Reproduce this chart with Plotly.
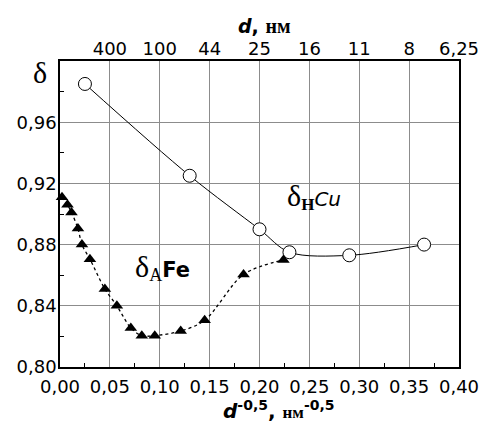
import plotly.graph_objects as go

# ---- data ----
cu_x = [0.025, 0.130, 0.200, 0.230, 0.290, 0.365]
cu_y = [0.985, 0.925, 0.890, 0.875, 0.873, 0.880]

fe_x = [0.002, 0.0075, 0.0115, 0.018, 0.022, 0.030, 0.045, 0.057, 0.071, 0.082, 0.095, 0.121, 0.145, 0.184, 0.224]
fe_y = [0.911, 0.906, 0.901, 0.8905, 0.880, 0.8705, 0.851, 0.840, 0.8255, 0.8205, 0.8205, 0.8235, 0.8305, 0.8605, 0.870]

x_tickvals = [0.00, 0.05, 0.10, 0.15, 0.20, 0.25, 0.30, 0.35, 0.40]
x_ticktext = ["0,00", "0,05", "0,10", "0,15", "0,20", "0,25", "0,30", "0,35", "0,40"]
x_minor = [0.025, 0.075, 0.125, 0.175, 0.225, 0.275, 0.325, 0.375]

y_tickvals = [0.80, 0.84, 0.88, 0.92, 0.96]
y_ticktext = ["0,80", "0,84", "0,88", "0,92", "0,96"]
y_minor = [0.82, 0.86, 0.90, 0.94, 0.98]

top_tickvals = [0.05, 0.10, 0.15, 0.20, 0.25, 0.30, 0.35, 0.40]
top_ticktext = ["400", "100", "44", "25", "16", "11", "8", "6,25"]

SANS = "DejaVu Sans"
SERIF = "Liberation Serif"

fig = go.Figure()

fig.add_trace(go.Scatter(
    x=cu_x, y=cu_y, mode="lines+markers",
    line=dict(color="black", width=1, shape="spline", smoothing=0.9),
    marker=dict(symbol="circle", size=13, color="white", line=dict(color="black", width=1)),
    cliponaxis=False, showlegend=False, hoverinfo="skip"))

fig.add_trace(go.Scatter(
    x=fe_x, y=fe_y, mode="lines+markers",
    line=dict(color="black", width=1.3, dash="dot", shape="spline", smoothing=0.9),
    marker=dict(symbol="triangle-up", size=11, color="black"),
    cliponaxis=False, showlegend=False, hoverinfo="skip"))

# invisible trace to carry the top axis
fig.add_trace(go.Scatter(x=[0, 0.4], y=[0.8, 0.8], xaxis="x2", mode="markers",
                         marker=dict(opacity=0), showlegend=False, hoverinfo="skip"))

axis_common = dict(showline=True, linecolor="black", linewidth=1.5, mirror=True,
                   showgrid=True, gridcolor="#8c8c8c", gridwidth=1, zeroline=False,
                   tickfont=dict(family=SANS, size=18, color="black"))

fig.update_layout(
    width=491, height=427,
    margin=dict(l=60, r=23, t=61, b=60),
    paper_bgcolor="white", plot_bgcolor="white",
    xaxis=dict(range=[0, 0.40], tickmode="array", tickvals=x_tickvals, ticktext=x_ticktext,
               ticks="inside", ticklen=0, ticklabelstandoff=3,
               minor=dict(tickvals=x_minor, ticks="inside", ticklen=4, tickcolor="black", showgrid=False),
               **axis_common),
    yaxis=dict(range=[0.80, 1.00], tickmode="array", tickvals=y_tickvals, ticktext=y_ticktext,
               ticks="inside", ticklen=0, ticklabelstandoff=-2,
               minor=dict(tickvals=y_minor, ticks="inside", ticklen=4, tickcolor="black", showgrid=False),
               **axis_common),
    xaxis2=dict(overlaying="x", side="top", anchor="y", range=[0, 0.40],
                tickmode="array", tickvals=top_tickvals, ticktext=top_ticktext,
                showgrid=False, showline=False, zeroline=False, ticks="", ticklabelstandoff=1,
                tickfont=dict(family=SANS, size=18, color="black")),
)

ann = []
# delta on y axis
ann.append(dict(xref="paper", yref="paper", x=-0.049, y=0.964, xanchor="center", yanchor="middle",
                text="δ", showarrow=False, font=dict(family=SERIF, size=30, color="black")))
# top axis title
ann.append(dict(xref="paper", yref="paper", x=0.512, y=1.114, xanchor="center", yanchor="middle",
                text="<b><i>d</i>, <span style='font-family:Liberation Serif;font-size:20px'>нм</span></b>",
                showarrow=False, font=dict(family=SANS, size=19, color="black")))
# bottom axis title
ann.append(dict(xref="paper", yref="paper", x=0.549, y=-0.14, xanchor="center", yanchor="middle",
                text="<b><i>d</i><sup>-0,5</sup>, <span style='font-family:Liberation Serif;font-size:17px'>нм</span><sup>-0,5</sup></b>",
                showarrow=False, font=dict(family=SANS, size=20, color="black")))
# series labels
ann.append(dict(xref="x", yref="y", x=0.2255, y=0.9116, xanchor="left", yanchor="middle",
                text="<span style='font-family:Liberation Serif;font-size:30px'>δ</span>"
                     "<sub><span style='font-family:Liberation Serif;font-size:17px'><b>Н</b></span></sub>"
                     "<i>Cu</i>",
                showarrow=False, font=dict(family=SANS, size=20, color="black")))
ann.append(dict(xref="x", yref="y", x=0.0735, y=0.865, xanchor="left", yanchor="middle",
                text="<span style='font-family:Liberation Serif;font-size:30px'>δ</span>"
                     "<sub><span style='font-family:Liberation Serif;font-size:18px'>A</span></sub>"
                     "<b>Fe</b>",
                showarrow=False, font=dict(family=SANS, size=21, color="black")))
fig.update_layout(annotations=ann)

fig.write_html("out.html", config={"displayModeBar": False},
               post_script="document.body.style.margin='0px';")
